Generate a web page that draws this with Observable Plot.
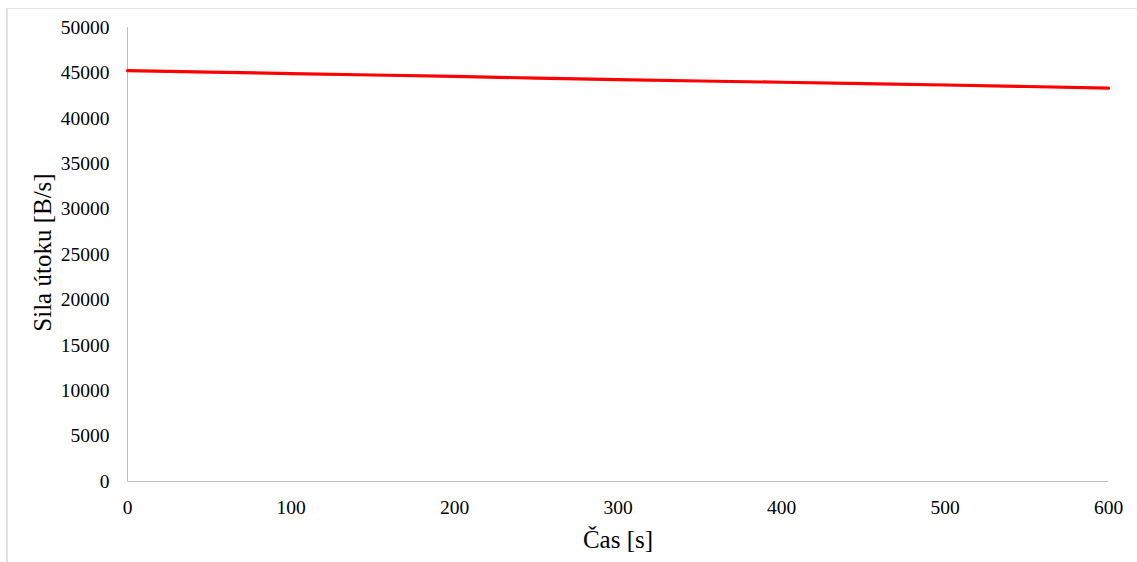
<!DOCTYPE html>
<html>
<head>
<meta charset="utf-8">
<script src="https://cdn.jsdelivr.net/npm/d3@7"></script>
<script src="https://cdn.jsdelivr.net/npm/@observablehq/plot@0.6"></script>
<style>
  html, body { margin: 0; padding: 0; background: #fff; }
  #wrap { position: relative; width: 1137px; height: 562px; overflow: hidden; }
  #frame { position: absolute; left: 6px; top: 8px; width: 1160px; height: 600px;
           border-left: 2px solid #e3e3e3; border-top: 1px solid #e3e3e3; }
  #chart { position: absolute; left: 0; top: 0; }
  #chart svg { font-family: "Liberation Serif", "Times New Roman", serif !important; font-size: 19.5px !important; color: #000 !important; background: transparent !important; }
  #chart svg text { font-family: "Liberation Serif", "Times New Roman", serif !important; }
</style>
</head>
<body>
<div id="wrap"><div id="frame"></div><div id="chart"></div></div>
<script>
const times = [0, 50, 100, 150, 200, 250, 300, 350, 400, 450, 500, 550, 600];
const values = [45240, 45080, 44930, 44770, 44610, 44430, 44260, 44110, 43970, 43820, 43670, 43500, 43320];
const xTicks = [0, 100, 200, 300, 400, 500, 600];
const yTicks = [0, 5000, 10000, 15000, 20000, 25000, 30000, 35000, 40000, 45000, 50000];
const xTitle = "Čas [s]";
const yTitle = "Sila útoku [B/s]";

const data = times.map((t, i) => ({t, v: values[i]}));

const chart = Plot.plot({
  width: 1137,
  height: 562,
  marginLeft: 127,
  marginRight: 29,
  marginTop: 27,
  marginBottom: 81,
  x: {domain: [0, 600], ticks: xTicks, tickSize: 0, tickPadding: 19, label: null},
  y: {domain: [0, 50000], ticks: yTicks, tickSize: 0, tickPadding: 18, label: null, tickFormat: d => String(d)},
  marks: [
    Plot.ruleY([0], {stroke: "#bfbfbf", strokeWidth: 1}),
    Plot.ruleX([0], {stroke: "#bfbfbf", strokeWidth: 1}),
    Plot.line(data, {x: "t", y: "v", stroke: "#ff0000", strokeWidth: 3.2}),
    Plot.text([yTitle], {frameAnchor: "left", dx: -85, dy: -2, rotate: -90, textAnchor: "middle", lineAnchor: "middle", fontSize: 25, fill: "#000"}),
    Plot.text([xTitle], {frameAnchor: "bottom", dy: 58, textAnchor: "middle", lineAnchor: "middle", fontSize: 25, fill: "#000"})
  ]
});
document.getElementById("chart").appendChild(chart);
</script>
</body>
</html>
